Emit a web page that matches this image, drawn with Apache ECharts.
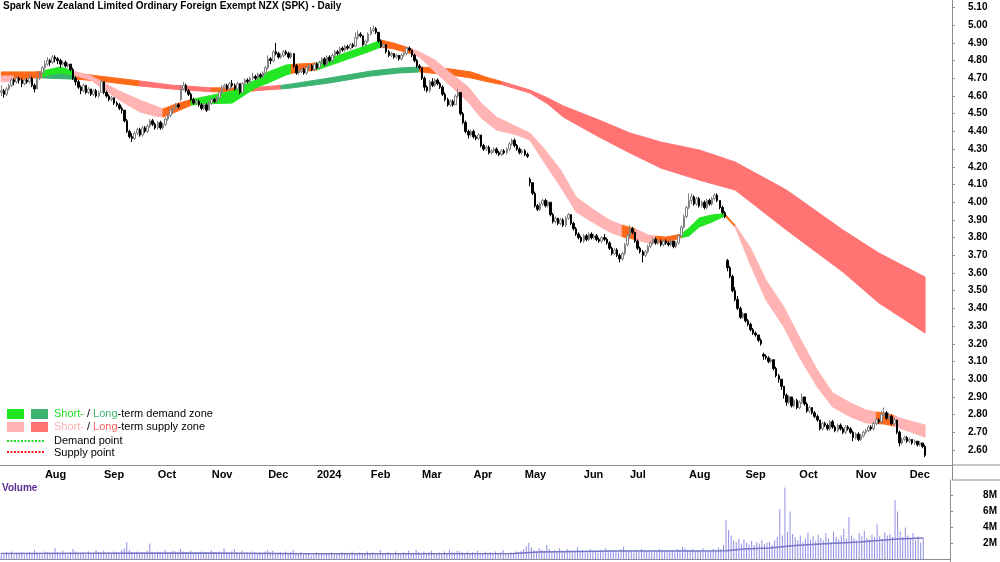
<!DOCTYPE html>
<html>
<head>
<meta charset="utf-8">
<script src="https://cdn.jsdelivr.net/npm/echarts@6/dist/echarts.min.js"></script>
<style>html,body{margin:0;padding:0;background:#fff}#box{width:1000px;height:562px}</style>
</head>
<body>
<div id="box"></div>
<script>
// trading days = weekdays from firstDay to lastDay without NZX holidays, a few empty days after
var firstDay = '2023-07-06', lastDay = '2024-12-10', padDays = 10;
var holidays = ['2023-07-14', '2023-10-23', '2023-12-25', '2023-12-26', '2024-01-01', '2024-01-02',
    '2024-02-06', '2024-03-29', '2024-04-01', '2024-04-25', '2024-06-03', '2024-06-28', '2024-10-28'];
var monthNames = ['Jan', 'Feb', 'Mar', 'Apr', 'May', 'Jun', 'Jul', 'Aug', 'Sep', 'Oct', 'Nov', 'Dec'];
var priceTicks = [2.6, 2.7, 2.8, 2.9, 3.0, 3.1, 3.2, 3.3, 3.4, 3.5, 3.6, 3.7, 3.8, 3.9, 4.0, 4.1, 4.2, 4.3, 4.4, 4.5, 4.6, 4.7, 4.8, 4.9, 5.0, 5.1];
var volumeTicks = [2, 4, 6, 8];

// daily candles, cents: [open, high, low, close]
var candles = [
    [462,466,460,463],[463,464,459,461],[461,465,460,464],[464,467,463,466],[466,470,465,469],[469,470,466,468],[468,471,467,470],[470,471,467,469],[469,470,465,467],[467,470,466,469],
    [469,470,467,468],[468,472,467,470],[470,471,465,466],[466,467,462,464],[464,471,464,470],[470,474,469,473],[473,477,472,476],[476,480,475,478],[478,482,477,480],[480,481,477,479],
    [479,483,478,482],[482,483,479,481],[481,482,478,480],[480,481,476,478],[478,480,477,479],[479,480,476,477],[477,479,476,478],[478,478,474,475],[475,476,469,470],[470,471,466,468],
    [468,469,464,465],[465,466,461,463],[463,467,462,466],[466,466,461,462],[462,465,461,464],[464,464,460,461],[461,464,460,463],[463,464,459,460],[460,463,459,462],[462,469,462,468],
    [468,468,461,462],[462,463,459,460],[460,461,457,458],[458,460,457,459],[459,459,455,456],[456,457,454,455],[455,456,452,453],[453,454,450,452],[452,452,445,446],[446,447,439,440],
    [440,441,436,437],[437,439,434,436],[436,440,435,439],[439,442,438,441],[441,442,437,438],[438,443,437,442],[442,443,439,440],[440,444,439,443],[443,447,442,446],[446,447,443,444],
    [444,445,441,442],[442,446,441,445],[445,446,441,442],[442,445,441,444],[444,448,443,447],[447,450,446,449],[449,453,448,452],[452,454,450,453],[453,456,452,455],[455,456,453,454],
    [458,466,457,464],[464,468,463,466],[466,467,462,463],[463,464,460,461],[461,462,457,458],[458,459,455,456],[456,458,455,457],[457,458,454,455],[455,456,452,453],[453,456,452,455],
    [455,456,451,452],[452,457,452,456],[456,459,455,458],[458,459,456,457],[457,460,456,459],[459,463,458,462],[462,466,461,465],[465,467,464,466],[466,467,463,464],[464,468,463,467],
    [467,469,465,466],[466,467,463,464],[464,468,463,467],[467,467,461,462],[462,468,462,467],[467,470,466,469],[469,470,467,468],[468,471,467,470],[470,473,469,471],[471,472,469,470],
    [470,473,469,472],[472,473,470,471],[471,474,470,473],[473,477,472,476],[476,483,475,481],[481,482,478,480],[480,486,479,485],[485,490,483,484],[484,485,481,482],[482,484,481,483],
    [483,486,482,485],[485,486,483,484],[484,485,481,482],[482,485,481,484],[484,484,476,477],[477,478,472,473],[473,475,472,474],[474,476,473,475],[475,476,472,473],[473,477,472,476],
    [476,478,475,477],[477,478,474,475],[475,479,474,478],[478,479,475,476],[476,480,475,479],[479,482,478,481],[481,482,477,478],[478,483,477,482],[482,483,479,480],[480,484,479,483],
    [483,486,482,485],[485,486,483,484],[484,488,483,487],[487,488,485,486],[486,489,485,488],[488,489,486,487],[487,490,486,489],[489,490,487,488],[488,496,488,493],[493,497,492,495],
    [495,496,493,494],[494,494,488,489],[489,492,488,491],[491,496,490,495],[495,499,494,497],[497,500,496,498],[498,499,495,496],[496,496,490,491],[491,492,487,488],[488,490,487,489],
    [489,489,484,485],[485,486,482,483],[483,485,482,484],[484,484,481,482],[482,484,481,483],[483,483,480,481],[481,484,480,483],[483,485,482,484],[484,488,483,487],[487,488,485,486],
    [486,486,482,483],[483,484,479,480],[480,481,476,477],[477,478,475,476],[476,476,469,470],[470,471,463,465],[465,466,462,463],[463,469,462,468],[468,470,465,466],[466,470,465,469],
    [469,470,466,467],[467,468,464,465],[465,466,460,461],[461,462,457,458],[458,459,454,455],[455,458,454,457],[457,458,454,455],[455,461,455,460],[460,464,459,462],[462,462,449,450],
    [450,451,444,445],[445,446,439,440],[440,441,436,438],[438,441,437,440],[440,441,436,437],[437,438,435,436],[436,439,435,438],[438,438,431,432],[432,433,429,430],[430,432,429,431],
    [431,432,427,428],[428,430,427,429],[429,431,428,430],[430,431,427,428],[428,429,426,427],[427,430,426,429],[429,430,427,428],[428,431,427,430],[430,434,429,433],[433,436,432,435],
    [435,436,431,432],[432,433,429,430],[430,431,427,428],[428,430,427,429],[429,430,426,427],[427,428,425,426],[413,414,409,411],[411,411,404,405],[405,406,397,398],[398,399,395,396],
    [396,400,395,399],[399,402,398,401],[401,402,397,398],[398,401,397,400],[400,400,392,393],[393,394,388,389],[389,392,388,391],[391,391,387,388],[388,391,387,390],[390,391,386,387],
    [387,392,386,391],[391,394,390,393],[393,393,387,388],[388,389,384,385],[385,386,381,382],[382,383,379,380],[380,381,377,378],[378,382,377,381],[381,382,378,379],[379,383,378,382],
    [382,383,379,380],[380,382,379,381],[381,382,378,379],[379,380,377,378],[378,381,377,380],[380,382,378,379],[379,380,376,377],[377,378,373,374],[374,375,370,371],[371,374,370,373],
    [373,374,369,370],[370,371,366,368],[368,372,367,371],[371,377,370,376],[376,382,375,381],[381,387,380,385],[385,386,382,383],[383,383,377,378],[378,379,373,374],[374,375,371,372],
    [372,373,366,370],[370,373,369,372],[372,376,371,375],[375,378,374,377],[377,380,376,379],[379,380,376,377],[377,379,376,378],[378,379,375,376],[376,379,375,378],[378,379,376,377],
    [377,378,375,376],[376,379,375,378],[378,378,374,375],[375,378,374,377],[377,382,376,381],[381,387,380,386],[386,393,385,392],[392,398,391,397],[397,405,396,401],[401,405,399,403],
    [403,404,398,399],[399,403,398,402],[402,403,397,398],[398,401,397,400],[400,401,396,397],[397,402,396,401],[401,402,398,399],[399,403,398,402],[402,405,401,404],[404,405,400,401],
    [401,401,396,397],[397,398,393,394],[394,395,391,392],[367,368,361,363],[363,364,357,358],[358,359,349,350],[350,352,344,345],[345,347,339,340],[340,341,334,335],[335,338,334,337],
    [337,337,332,333],[333,334,330,331],[331,332,327,328],[328,329,325,326],[326,327,324,325],[325,325,321,322],[322,323,319,320],[314,315,311,313],[313,314,311,312],[312,313,309,310],
    [310,312,309,311],[311,311,305,306],[306,307,301,302],[302,303,298,300],[300,300,294,296],[296,296,289,291],[291,292,285,287],[287,291,286,290],[290,290,284,285],[285,289,284,288],
    [288,289,283,284],[284,288,283,287],[287,292,286,290],[290,290,285,286],[286,287,281,282],[282,285,281,284],[284,284,280,281],[281,282,278,279],[279,280,276,277],[277,277,271,272],
    [272,276,271,275],[275,276,273,274],[274,275,271,272],[272,277,271,276],[276,277,272,273],[273,274,270,271],[271,275,270,274],[274,275,271,272],[272,273,269,270],[270,274,269,273],
    [273,274,271,272],[272,273,269,270],[270,271,265,267],[267,270,266,269],[269,270,265,266],[266,269,265,268],[268,271,267,270],[270,272,269,271],[271,274,270,273],[273,274,271,272],
    [272,276,271,275],[275,278,274,277],[277,278,275,276],[276,282,275,280],[280,284,279,281],[281,282,277,278],[278,281,277,279],[279,280,274,275],[275,278,274,277],[277,277,269,270],
    [270,271,262,264],[264,267,263,266],[266,268,265,267],[267,268,264,265],[265,267,264,266],[266,266,263,264],[264,266,263,265],[265,265,262,263],[263,265,262,264],[264,264,261,262],
    [262,263,256,257]
];

// daily volume, units of 100,000 shares
var volume = [
    8,6,9,7,10,6,8,7,9,6, 7,9,8,12,7,8,6,10,9,7, 8,14,9,7,11,8,6,9,13,10, 8,7,9,6,10,8,7,12,9,8,
    11,7,9,8,10,9,8,12,14,22, 12,9,8,10,7,9,8,11,20,9, 8,10,9,7,12,8,9,11,10,8, 13,10,9,8,11,7,9,8,10,7,
    9,8,12,9,7,10,8,14,9,8, 10,13,9,8,11,7,9,8,10,9, 8,9,7,10,12,9,11,8,7,9, 8,10,7,9,12,8,7,9,6,8,
    7,5,6,9,8,7,6,8,7,9, 6,8,7,9,8,7,6,10,8,7, 9,8,7,10,8,9,7,6,12,8, 7,9,8,6,10,7,8,9,7,11,
    8,7,12,9,8,10,7,9,11,8, 7,9,8,10,7,12,9,8,11,10, 9,8,10,7,9,8,11,7,8,10, 8,9,7,10,8,9,12,8,7,9,
    8,10,9,11,13,17,21,15,12,10, 14,12,11,18,13,10,12,9,14,11, 10,13,12,9,11,15,10,12,9,11, 13,10,11,9,12,10,14,11,10,12,
    11,9,13,16,12,10,11,9,12,10, 13,11,10,12,9,11,10,13,11,10, 12,10,11,9,13,12,16,14,12,11, 13,10,12,11,14,10,12,11,13,12,
    15,13,18,49,37,30,24,22,26,20, 25,21,19,23,18,22,20,24,19,21, 22,18,24,28,63,30,90,35,60,32, 28,24,30,22,26,34,25,29,23,31,
    27,24,33,26,22,35,28,25,30,38, 26,53,30,27,24,33,29,36,27,25, 31,28,44,29,26,34,30,32,28,74, 60,35,28,40,30,26,33,24,29,21,27
];

// volume average, [trading day index, millions]
var volumeAvg = [[0, 0.75], [40, 0.78], [80, 0.8], [120, 0.72], [160, 0.72], [200, 0.75], [210, 0.95], [240, 1.05],
    [270, 1.08], [283, 1.1], [290, 1.3], [300, 1.45], [310, 1.75], [320, 1.95], [335, 2.2], [350, 2.55], [360, 2.7]];

// zones: [trading day index, upper, lower, state until next point] d = demand, s = supply, n = neutral
var shortBand = [
    [0, 4.713, 4.679, 's'], [5, 4.713, 4.685, 'n'], [16, 4.741, 4.713, 'd'], [23, 4.764, 4.730, 'd'], [28, 4.741, 4.719, 's'],
    [35, 4.713, 4.690, 's'], [38, 4.690, 4.657, 's'], [46, 4.628, 4.577, 's'], [54, 4.577, 4.510, 's'], [60, 4.544, 4.487, 's'],
    [63, 4.527, 4.481, 'n'], [68, 4.555, 4.510, 'n'], [74, 4.580, 4.548, 'd'], [77, 4.589, 4.555, 'd'], [90, 4.628, 4.560, 'd'],
    [99, 4.690, 4.645, 'd'], [104, 4.736, 4.674, 'd'], [111, 4.775, 4.719, 'd'], [113, 4.778, 4.727, 'n'], [116, 4.781, 4.736, 'n'],
    [123, 4.786, 4.747, 'd'], [134, 4.843, 4.803, 'd'], [143, 4.888, 4.849, 'd'], [148, 4.916, 4.877, 'n'], [153, 4.899, 4.866, 'n'],
    [160, 4.866, 4.838, 's'], [163, 4.849, 4.820, 's'], [169, 4.803, 4.736, 's'], [176, 4.719, 4.645, 's'], [182, 4.651, 4.566, 's'],
    [187, 4.560, 4.476, 's'], [193, 4.481, 4.408, 's'], [201, 4.425, 4.380, 's'], [206, 4.391, 4.351, 's'], [211, 4.312, 4.238, 's'],
    [218, 4.182, 4.086, 's'], [224, 4.029, 3.945, 's'], [231, 3.956, 3.882, 's'], [237, 3.899, 3.832, 's'], [242, 3.870, 3.805, 'n'],
    [247, 3.850, 3.790, 's'], [252, 3.815, 3.770, 's'], [255, 3.808, 3.770, 'n'], [259, 3.803, 3.772, 'n'], [265, 3.820, 3.800, 'd'],
    [268, 3.854, 3.809, 'd'], [272, 3.911, 3.860, 'd'], [277, 3.928, 3.888, 'd'], [282, 3.935, 3.922, 'n'], [286, 3.870, 3.860, 's'],
    [292, 3.741, 3.645, 's'], [298, 3.560, 3.447, 's'], [305, 3.408, 3.295, 's'], [311, 3.238, 3.125, 's'], [318, 3.052, 2.956, 's'],
    [324, 2.922, 2.843, 's'], [331, 2.866, 2.787, 's'], [337, 2.826, 2.753, 's'], [341, 2.815, 2.749, 'n'], [344, 2.809, 2.747, 'n'],
    [348, 2.795, 2.735, 's'], [350, 2.781, 2.724, 's'], [360, 2.741, 2.673, 's']
];
var longBand = [
    [0, 4.736, 4.702, 'n'], [16, 4.736, 4.702, 'd'], [29, 4.729, 4.695, 'n'], [38, 4.713, 4.685, 'n'], [54, 4.685, 4.657, 's'],
    [66, 4.662, 4.640, 's'], [82, 4.646, 4.624, 'n'], [93, 4.645, 4.623, 'n'], [99, 4.648, 4.630, 's'], [109, 4.660, 4.640, 'd'],
    [113, 4.668, 4.645, 'd'], [128, 4.702, 4.674, 'd'], [144, 4.741, 4.713, 'd'], [155, 4.758, 4.730, 'd'], [163, 4.764, 4.736, 'n'],
    [175, 4.753, 4.719, 'n'], [183, 4.736, 4.702, 'n'], [190, 4.702, 4.679, 'n'], [195, 4.682, 4.665, 's'], [206, 4.634, 4.617, 's'],
    [213, 4.589, 4.555, 's'], [219, 4.544, 4.481, 's'], [233, 4.464, 4.368, 's'], [245, 4.391, 4.278, 's'], [257, 4.340, 4.193, 's'],
    [272, 4.295, 4.125, 's'], [286, 4.227, 4.069, 's'], [306, 4.069, 3.843, 's'], [328, 3.843, 3.606, 's'], [342, 3.713, 3.431, 's'],
    [360, 3.577, 3.261, 's']
];

var shortColors = { d: '#22e622', s: '#ffb3b3', n: '#ff6a1a' };
var longColors = { d: '#3cb371', s: '#ff7373', n: '#ff6a1a' };
var axisGrey = '#8c8c8c';
var font = 'Liberation Sans, Arial, sans-serif';

function buildDates() {
    var out = [], extra = 0;
    var d = new Date(firstDay + 'T00:00:00Z'), end = new Date(lastDay + 'T00:00:00Z');
    while (extra < padDays) {
        var wd = d.getUTCDay(), s = d.toISOString().slice(0, 10);
        if (wd !== 0 && wd !== 6 && holidays.indexOf(s) < 0) {
            out.push(s);
            if (d > end) extra++;
        }
        d.setUTCDate(d.getUTCDate() + 1);
    }
    return out;
}
var dates = buildDates();
var monthStart = dates.map(function (s, i) {
    return i > 0 && s.slice(5, 7) !== dates[i - 1].slice(5, 7);
});

var candleData = candles.map(function (c) { return [c[0] / 100, c[3] / 100, c[2] / 100, c[1] / 100]; });
var volumeData = volume.map(function (v) { return v / 10; });
var avgData = dates.map(function () { return null; });
volumeAvg.forEach(function (p) { avgData[p[0]] = p[1]; });

// group consecutive intervals with the same state into one polygon
function bandSeries(band, colors) {
    var runs = [];
    for (var k = 0; k < band.length - 1; k++) {
        var last = runs[runs.length - 1];
        if (last && last.state === band[k][3]) last.end = k + 1;
        else runs.push({ state: band[k][3], start: k, end: k + 1 });
    }
    return {
        type: 'custom',
        xAxisIndex: 0,
        yAxisIndex: 0,
        silent: true,
        data: runs.map(function (r) { return [band[r.start][0], band[r.start][1]]; }),
        renderItem: function (params, api) {
            var r = runs[params.dataIndex], top = [], bot = [];
            for (var k = r.start; k <= r.end; k++) {
                top.push(api.coord([band[k][0], band[k][1]]));
                bot.unshift(api.coord([band[k][0], band[k][2]]));
            }
            return {
                type: 'polygon',
                shape: { points: top.concat(bot) },
                style: { fill: colors[r.state], stroke: colors[r.state], lineWidth: 1 }
            };
        }
    };
}

var myChart = echarts.init(document.getElementById('box'));
var option = {
    animation: false,
    title: [
        {
            text: 'Spark New Zealand Limited Ordinary Foreign Exempt NZX (SPK) - Daily',
            left: 3, top: 1, padding: 0,
            textStyle: { fontSize: 10, fontWeight: 'bold', color: '#000', fontFamily: font }
        },
        {
            text: 'Volume',
            left: 2, top: 483, padding: 0,
            textStyle: { fontSize: 10, fontWeight: 'bold', color: '#5c2d91', fontFamily: font }
        }
    ],
    grid: [
        { left: 0, right: 48, top: 0, height: 465 },
        { left: 0, right: 48, top: 480, height: 82 }
    ],
    xAxis: [
        {
            type: 'category', gridIndex: 0, data: dates, boundaryGap: true,
            axisLine: { lineStyle: { color: axisGrey, width: 1 } },
            axisTick: { interval: function (i) { return monthStart[i]; }, length: 4, lineStyle: { color: axisGrey } },
            axisLabel: {
                interval: function (i) { return monthStart[i]; },
                formatter: function (v) {
                    var m = +v.slice(5, 7);
                    return m === 1 ? v.slice(0, 4) : monthNames[m - 1];
                },
                align: 'left', margin: 4, fontSize: 11, fontWeight: 'bold', color: '#000',
                fontFamily: 'Liberation Sans Narrow, Arial Narrow, sans-serif'
            },
            splitLine: { show: false }
        },
        {
            type: 'category', gridIndex: 1, data: dates, boundaryGap: true, position: 'top',
            axisLine: { lineStyle: { color: axisGrey, width: 1 } },
            axisTick: { show: false }, axisLabel: { show: false }, splitLine: { show: false }
        }
    ],
    yAxis: [
        {
            type: 'value', gridIndex: 0, position: 'right', min: 2.5153, max: 5.1424, scale: true,
            splitLine: { show: false },
            axisLine: { show: true, lineStyle: { color: axisGrey } },
            axisTick: { show: true, length: 3, customValues: priceTicks, lineStyle: { color: axisGrey } },
            axisLabel: {
                customValues: priceTicks, margin: 16, fontSize: 10, fontWeight: 'bold', color: '#000', fontFamily: font,
                formatter: function (v) { return v.toFixed(2); }
            }
        },
        {
            type: 'value', gridIndex: 1, position: 'right', min: -0.31, max: 9.94,
            splitLine: { show: false },
            axisLine: { show: true, lineStyle: { color: axisGrey } },
            axisTick: { show: true, length: 3, customValues: volumeTicks, lineStyle: { color: axisGrey } },
            axisLabel: {
                customValues: volumeTicks, margin: 33, fontSize: 10, fontWeight: 'bold', color: '#000', fontFamily: font,
                formatter: function (v) { return v + 'M'; }
            }
        }
    ],
    series: [
        bandSeries(longBand, longColors),
        bandSeries(shortBand, shortColors),
        {
            type: 'candlestick', xAxisIndex: 0, yAxisIndex: 0, data: candleData, barWidth: 2,
            itemStyle: { color: '#ffffff', color0: '#000000', borderColor: '#808080', borderColor0: '#000000', borderWidth: 1 }
        },
        {
            type: 'bar', xAxisIndex: 1, yAxisIndex: 1, data: volumeData, barWidth: 1,
            itemStyle: { color: '#8e8ee4' }
        },
        {
            type: 'line', xAxisIndex: 1, yAxisIndex: 1, data: avgData, connectNulls: true, showSymbol: false,
            lineStyle: { color: '#7676c6', width: 1.5 }
        }
    ],
    graphic: [
        { type: 'line', shape: { x1: 952, y1: 465, x2: 1000, y2: 465 }, style: { stroke: axisGrey, lineWidth: 1 } },
        { type: 'line', shape: { x1: 952, y1: 480, x2: 1000, y2: 480 }, style: { stroke: axisGrey, lineWidth: 1 } },
        { type: 'line', shape: { x1: 952.5, y1: 465, x2: 952.5, y2: 480 }, style: { stroke: axisGrey, lineWidth: 1 } },
        { type: 'rect', shape: { x: 7, y: 409, width: 17, height: 10 }, style: { fill: shortColors.d } },
        { type: 'rect', shape: { x: 31, y: 409, width: 17, height: 10 }, style: { fill: longColors.d } },
        { type: 'rect', shape: { x: 7, y: 422, width: 17, height: 10 }, style: { fill: shortColors.s } },
        { type: 'rect', shape: { x: 31, y: 422, width: 17, height: 10 }, style: { fill: longColors.s } },
        { type: 'line', shape: { x1: 7, y1: 441, x2: 45, y2: 441 }, style: { stroke: '#22dd22', lineWidth: 2, lineDash: [2, 1.5] } },
        { type: 'line', shape: { x1: 7, y1: 452, x2: 45, y2: 452 }, style: { stroke: '#ff1a1a', lineWidth: 2, lineDash: [2, 1.5] } },
        {
            type: 'text', x: 54, y: 414,
            style: {
                text: '{g|Short-} / {dg|Long}-term demand zone', fill: '#000', fontSize: 11, fontFamily: font, verticalAlign: 'middle',
                rich: { g: { fill: '#22dd22', fontSize: 11, fontFamily: font }, dg: { fill: longColors.d, fontSize: 11, fontFamily: font } }
            }
        },
        {
            type: 'text', x: 54, y: 427,
            style: {
                text: '{p|Short-} / {r|Long}-term supply zone', fill: '#000', fontSize: 11, fontFamily: font, verticalAlign: 'middle',
                rich: { p: { fill: '#ffb3b3', fontSize: 11, fontFamily: font }, r: { fill: '#ff5c5c', fontSize: 11, fontFamily: font } }
            }
        },
        { type: 'text', x: 54, y: 441, style: { text: 'Demand point', fill: '#000', fontSize: 11, fontFamily: font, verticalAlign: 'middle' } },
        { type: 'text', x: 54, y: 453, style: { text: 'Supply point', fill: '#000', fontSize: 11, fontFamily: font, verticalAlign: 'middle' } }
    ]
};

option && myChart.setOption(option);
</script>
</body>
</html>
